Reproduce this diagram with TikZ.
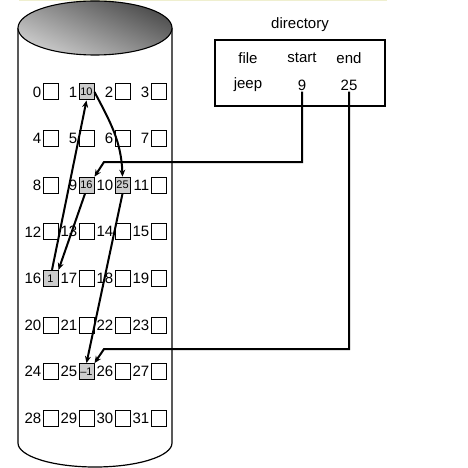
\documentclass[tikz,border=0pt]{standalone}
\usepackage{fontspec}
\setmainfont{Liberation Sans}
\usetikzlibrary{arrows.meta}
\definecolor{stripcol}{HTML}{EFEFCF}
\definecolor{cellfill}{HTML}{CCCCCC}
\begin{document}
\begin{tikzpicture}[x=1pt,y=-1pt,
  blk/.style={draw, line width=1pt, minimum width=15pt, minimum height=16pt, inner sep=0pt},
  fullblk/.style={blk, fill=cellfill, font=\fontsize{11}{11}\selectfont},
  lbl/.style={anchor=east, inner sep=1pt, font=\fontsize{15}{15}\selectfont},
  txt/.style={font=\fontsize{15}{15}\selectfont, inner sep=1pt},
  arr/.style={line width=2pt, -{Stealth[length=7pt,width=6pt]}}]
\useasboundingbox (0,0) rectangle (468,468);
\fill[stripcol] (19,0) rectangle (387,1.5);
% cylinder
\draw[line width=1.2pt] (18,28) -- (18,443) arc[start angle=180, end angle=0, x radius=77, y radius=24] -- (172,28);
\shade[top color=black!70, bottom color=black!20, shading angle=-25] (95,28) ellipse [x radius=77, y radius=27];
\draw[line width=1.1pt] (95,28) ellipse [x radius=77, y radius=27];
% blocks
\foreach \i in {0,2,3,4,5,6,7,8,11,12,13,14,15,17,18,19,20,21,22,23,24,26,27,28,29,30,31} {
  \pgfmathtruncatemacro\cc{mod(\i,4)}
  \pgfmathtruncatemacro\rr{div(\i,4)}
  \node[blk] (b\i) at ({50.5+36*\cc},{92+46.6*\rr}) {};
  \node[lbl] (l\i) at (b\i.west) {\i};
}
\foreach \i/\t in {1/10,9/16,10/25,16/1,25/{--1}} {
  \pgfmathtruncatemacro\cc{mod(\i,4)}
  \pgfmathtruncatemacro\rr{div(\i,4)}
  \node[fullblk] (b\i) at ({50.5+36*\cc},{92+46.6*\rr}) {\t};
  \node[lbl] (l\i) at (b\i.west) {\i};
}
% directory
\node[txt] (dirlabel) at (300,25) {directory};
\node[draw, line width=1.5pt, minimum width=170pt, minimum height=66pt, inner sep=0pt] (dir) at (300,73) {};
\node[txt] (hfile) at (248,58) {file};
\node[txt] (hstart) at (302,58) {start};
\node[txt] (hend) at (349,58) {end};
\node[txt] (jeep) at (248,85) {jeep};
\node[txt] (nine) at (302,85) {9};
\node[txt] (tf) at (349,85) {25};
\coordinate (k1) at (104,162);
\coordinate (k2) at (104,349);
\draw[arr] (nine.south) |- (k1) -- (b9.north east);
\draw[arr] (tf.south) |- (k2) -- (b25.north east);
% chain
\draw[arr] ([xshift=-1.5pt]b9.south) -- (b16.north east);
\draw[arr] ([xshift=1.5pt]b16.north) -- (b1.south);
\draw[arr] (b1.east) to[out=-62,in=92] (b10.north);
\draw[arr] (b10.south) -- (b25.north);
\end{tikzpicture}
\end{document}
